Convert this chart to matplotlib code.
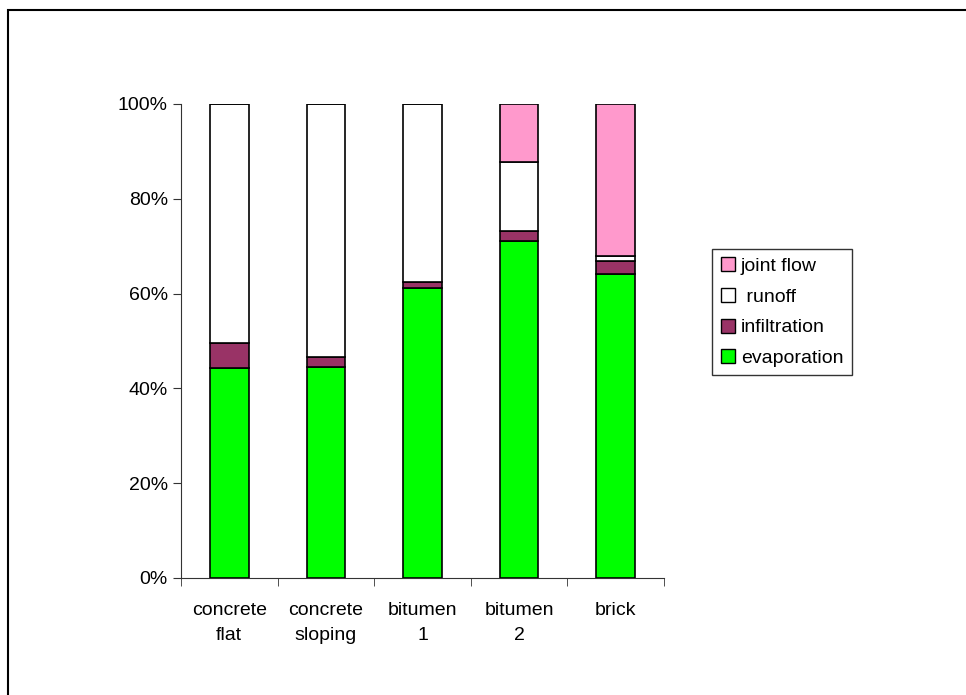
import matplotlib.pyplot as plt
import matplotlib.patches as mpatches
import numpy as np

plt.rcParams['font.family'] = ['Liberation Sans', 'DejaVu Sans']

categories = ['concrete\nflat', 'concrete\nsloping', 'bitumen\n1', 'bitumen\n2', 'brick']
evaporation = [44.4, 44.6, 61.1, 71.2, 64.2]
infiltration = [5.1, 2.1, 1.3, 2.0, 2.6]
runoff = [50.5, 53.3, 37.6, 14.6, 1.2]
joint_flow = [0.0, 0.0, 0.0, 12.2, 32.0]

series = [('evaporation', evaporation, '#00FF00'),
          ('infiltration', infiltration, '#993366'),
          (' runoff', runoff, '#FFFFFF'),
          ('joint flow', joint_flow, '#FF99CC')]

fig = plt.figure(figsize=(9.66, 6.95), dpi=100)
ax = fig.add_axes([181 / 966, 1 - 578 / 695, 483 / 966, 474 / 695])

x = np.arange(len(categories))
bottom = np.zeros(len(categories))
handles = []
for name, vals, col in series:
    vals = np.array(vals)
    ax.bar(x, vals, 0.4, bottom=bottom, color=col, edgecolor='black', linewidth=1.2)
    bottom += vals
    handles.append(mpatches.Patch(facecolor=col, edgecolor='black', linewidth=1, label=name))

ax.set_xlim(-0.5, len(categories) - 0.5)
ax.set_ylim(0, 100)
ax.set_yticks(np.arange(0, 101, 20))
ax.set_yticklabels([f'{v}%' for v in range(0, 101, 20)], fontsize=14)
ax.set_xticks(x)
ax.set_xticklabels(categories, fontsize=14, linespacing=1.65)
ax.tick_params(axis='x', length=0, pad=17)
ax.set_xticks(np.arange(-0.5, len(categories)), minor=True)
ax.tick_params(axis='x', which='minor', length=6, direction='out', color='#333333')
ax.tick_params(axis='y', length=6, direction='out', color='#333333')
for s in ['top', 'right']:
    ax.spines[s].set_visible(False)
for s in ['left', 'bottom']:
    ax.spines[s].set_color('#333333')

leg = ax.legend(handles=handles[::-1], loc='center left', bbox_to_anchor=(1.08, 0.561),
                fontsize=14, frameon=True, fancybox=False, edgecolor='black',
                handlelength=0.75, handleheight=0.75, handletextpad=0.3,
                labelspacing=0.66, borderpad=0.42)
leg.get_frame().set_linewidth(1)

fig.patches.append(mpatches.Rectangle((8 / 966, -0.1), 1.2, 1 - 10 / 695 + 0.1,
                                      transform=fig.transFigure, fill=False,
                                      edgecolor='black', linewidth=1.5))

fig.savefig('out.png', dpi=100)
